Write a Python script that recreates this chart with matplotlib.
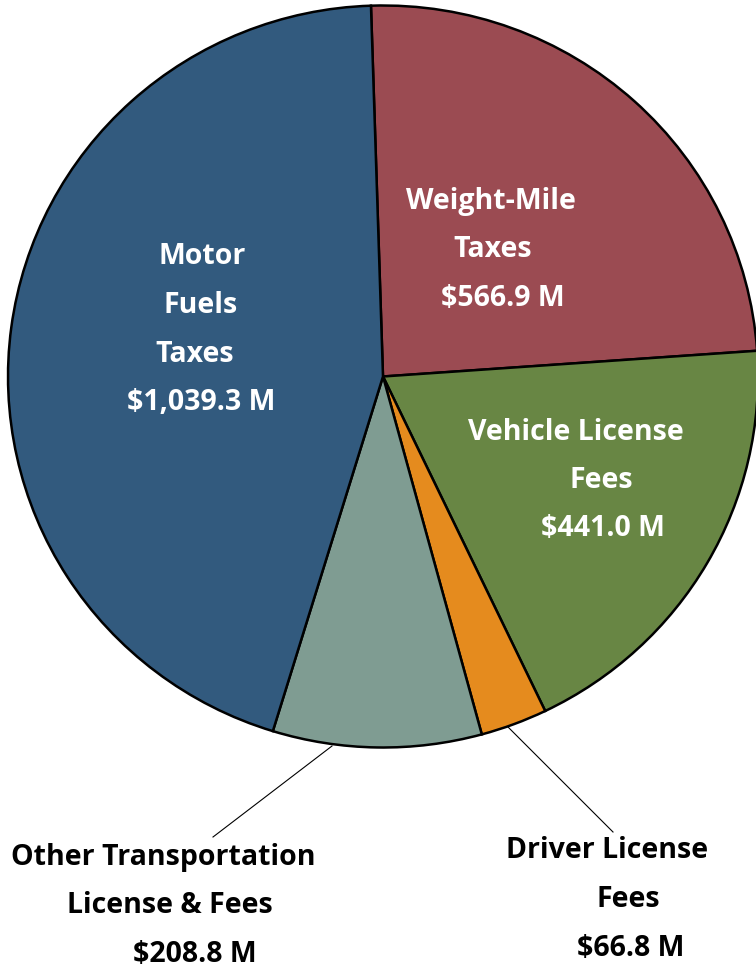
import matplotlib
matplotlib.use("Agg")
import matplotlib.pyplot as plt
import numpy as np

# slices in clockwise order starting from the top
labels = ["Weight-Mile\nTaxes", "Vehicle License\nFees", "Driver License\nFees",
          "Other Transportation\nLicense & Fees", "Motor\nFuels\nTaxes"]
values = [566.9, 441.0, 66.8, 208.8, 1039.3]
amounts = ["$566.9 M", "$441.0 M", "$66.8 M", "$208.8 M", "$1,039.3 M"]
colors = ["#9B4B52", "#688644", "#E58B1E", "#7F9C92", "#325A7E"]
text_colors = ["white", "white", "black", "black", "white"]

W, H = 756, 968
CX, CY = 383, 376.5    # pie centre in pixels
RX, RY = 375, 371      # slightly stretched like the original

# per-label layout: y of first line, x centre of each line (pixels)
line_y0 = [201, 432, 851, 857, 257]
line_xs = [[491, 493, 503], [576, 601, 603], [607, 628, 631],
           [163, 170, 195], [202, 201, 195, 201]]
pitch = 48.5

# leader lines (pixels) for the two outside labels
leaders = {2: ((508, 727), (613, 832)), 3: ((332, 746), (213, 837))}


def px(x, y):
    return (x - CX) / RX, (CY - y) / RY


fig = plt.figure(figsize=(W / 100, H / 100), dpi=100)
ax = fig.add_axes([0, 0, 1, 1])
ax.pie(values, colors=colors, startangle=91.84, counterclock=False,
       wedgeprops=dict(edgecolor="black", linewidth=1.8))
ax.set_aspect("auto")
ax.set_xlim(-CX / RX, (W - CX) / RX)
ax.set_ylim(-(H - CY) / RY, CY / RY)
ax.axis("off")

for i, lab in enumerate(labels):
    lines = lab.split("\n") + [amounts[i]]
    for j, s in enumerate(lines):
        x, y = px(line_xs[i][j], line_y0[i] + j * pitch)
        ax.text(x, y, s, ha="center", va="center", color=text_colors[i],
                fontsize=20.5, fontweight="bold", family="Open Sans")

for i, (p0, p1) in leaders.items():
    x0, y0 = px(*p0)
    x1, y1 = px(*p1)
    ax.plot([x0, x1], [y0, y1], color="black", linewidth=0.8)

fig.savefig("out.png", dpi=100)
